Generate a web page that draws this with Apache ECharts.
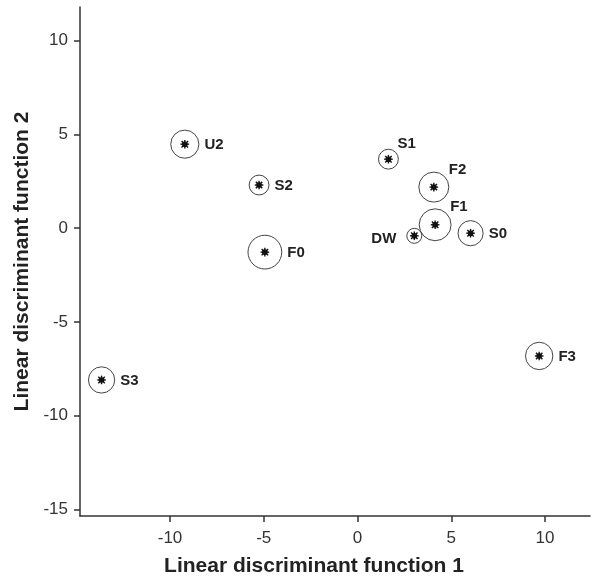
<!DOCTYPE html>
<html>
<head>
<meta charset="utf-8">
<script src="https://cdn.jsdelivr.net/npm/echarts@6/dist/echarts.min.js"></script>
<style>
html,body{margin:0;padding:0;background:#fff;}
#chart{width:596px;height:579px;}
</style>
</head>
<body>
<div id="chart"></div>
<script>
// group centroids on the two discriminant functions
var groups = ['U2', 'S2', 'F0', 'S1', 'F2', 'F1', 'DW', 'S0', 'S3', 'F3'];
var ld1 = [-9.21, -5.25, -4.94, 1.65, 4.07, 4.14, 3.03, 6.03, -13.65, 9.69];
var ld2 = [4.48, 2.30, -1.28, 3.68, 2.19, 0.18, -0.41, -0.27, -8.10, -6.82];
// circle radius, in LD units
var radius = [0.75, 0.53, 0.90, 0.53, 0.80, 0.85, 0.40, 0.67, 0.70, 0.73];
var xTicks = [-10, -5, 0, 5, 10];
var yTicks = [-15, -10, -5, 0, 5, 10];

var chart = echarts.init(document.getElementById('chart'));

var seriesData = [];
for (var i = 0; i < groups.length; i++) {
	seriesData.push([ld1[i], ld2[i], radius[i], groups[i]]);
}

// where the label goes, relative to the circle
function labelPlace(name, r) {
	if (name == 'S1') return {x: 9, y: -15, align: 'left'};
	if (name == 'F2') return {x: 15, y: -17, align: 'left'};
	if (name == 'F1') return {x: 15, y: -18, align: 'left'};
	if (name == 'DW') return {x: -18, y: 3, align: 'right'};
	return {x: r + 5.5, y: 1, align: 'left'};
}

function renderItem(params, api) {
	var c = api.coord([api.value(0), api.value(1)]);
	var r = api.size([api.value(2), 0])[0];
	var name = seriesData[params.dataIndex][3];
	var s = 4.3;
	var d = s * 0.75;
	var lp = labelPlace(name, r);
	var ink = {stroke: '#111', lineWidth: 1.4};
	return {
		type: 'group',
		children: [
			{type: 'circle', shape: {cx: c[0], cy: c[1], r: r},
				style: {fill: 'none', stroke: '#444', lineWidth: 1}},
			{type: 'line', shape: {x1: c[0] - s, y1: c[1], x2: c[0] + s, y2: c[1]}, style: ink},
			{type: 'line', shape: {x1: c[0], y1: c[1] - s, x2: c[0], y2: c[1] + s}, style: ink},
			{type: 'line', shape: {x1: c[0] - d, y1: c[1] - d, x2: c[0] + d, y2: c[1] + d}, style: ink},
			{type: 'line', shape: {x1: c[0] - d, y1: c[1] + d, x2: c[0] + d, y2: c[1] - d}, style: ink},
			{type: 'circle', shape: {cx: c[0], cy: c[1], r: 2.8},
				style: {fill: '#111'}},
			{type: 'text', x: c[0] + lp.x, y: c[1] + lp.y,
				style: {text: name, fill: '#222', align: lp.align, verticalAlign: 'middle',
					font: 'bold 15px "Liberation Sans", Arial, sans-serif'}}
		]
	};
}

var option = {
	animation: false,
	backgroundColor: '#fff',
	grid: {left: 80, right: 6, top: 7, bottom: 63, containLabel: false, outerBoundsMode: 'none'},
	xAxis: {
		type: 'value',
		min: -14.8,
		max: 12.4,
		name: 'Linear discriminant function 1',
		nameLocation: 'middle',
		nameGap: 40,
		nameTextStyle: {fontFamily: 'Liberation Sans', fontWeight: 'bold', fontSize: 21,
			color: '#222', padding: [0, 42, 0, 0]},
		axisLine: {onZero: false, lineStyle: {color: '#333', width: 1.5}},
		axisTick: {length: 6, customValues: xTicks, lineStyle: {color: '#333', width: 1.5}},
		axisLabel: {customValues: xTicks, margin: 14, fontSize: 17, color: '#333',
			fontFamily: 'Liberation Sans'},
		splitLine: {show: false}
	},
	yAxis: {
		type: 'value',
		min: -15.36,
		max: 11.8,
		name: 'Linear discriminant function 2',
		nameLocation: 'middle',
		nameGap: 43,
		nameTextStyle: {fontFamily: 'Liberation Sans', fontWeight: 'bold', fontSize: 21,
			color: '#222'},
		axisLine: {show: true, onZero: false, lineStyle: {color: '#333', width: 1.5}},
		axisTick: {show: true, length: 6, customValues: yTicks, lineStyle: {color: '#333', width: 1.5}},
		axisLabel: {customValues: yTicks, margin: 12, fontSize: 17, color: '#333',
			fontFamily: 'Liberation Sans'},
		splitLine: {show: false}
	},
	series: [{
		type: 'custom',
		renderItem: renderItem,
		data: seriesData,
		clip: false
	}]
};
chart.setOption(option);
</script>
</body>
</html>
